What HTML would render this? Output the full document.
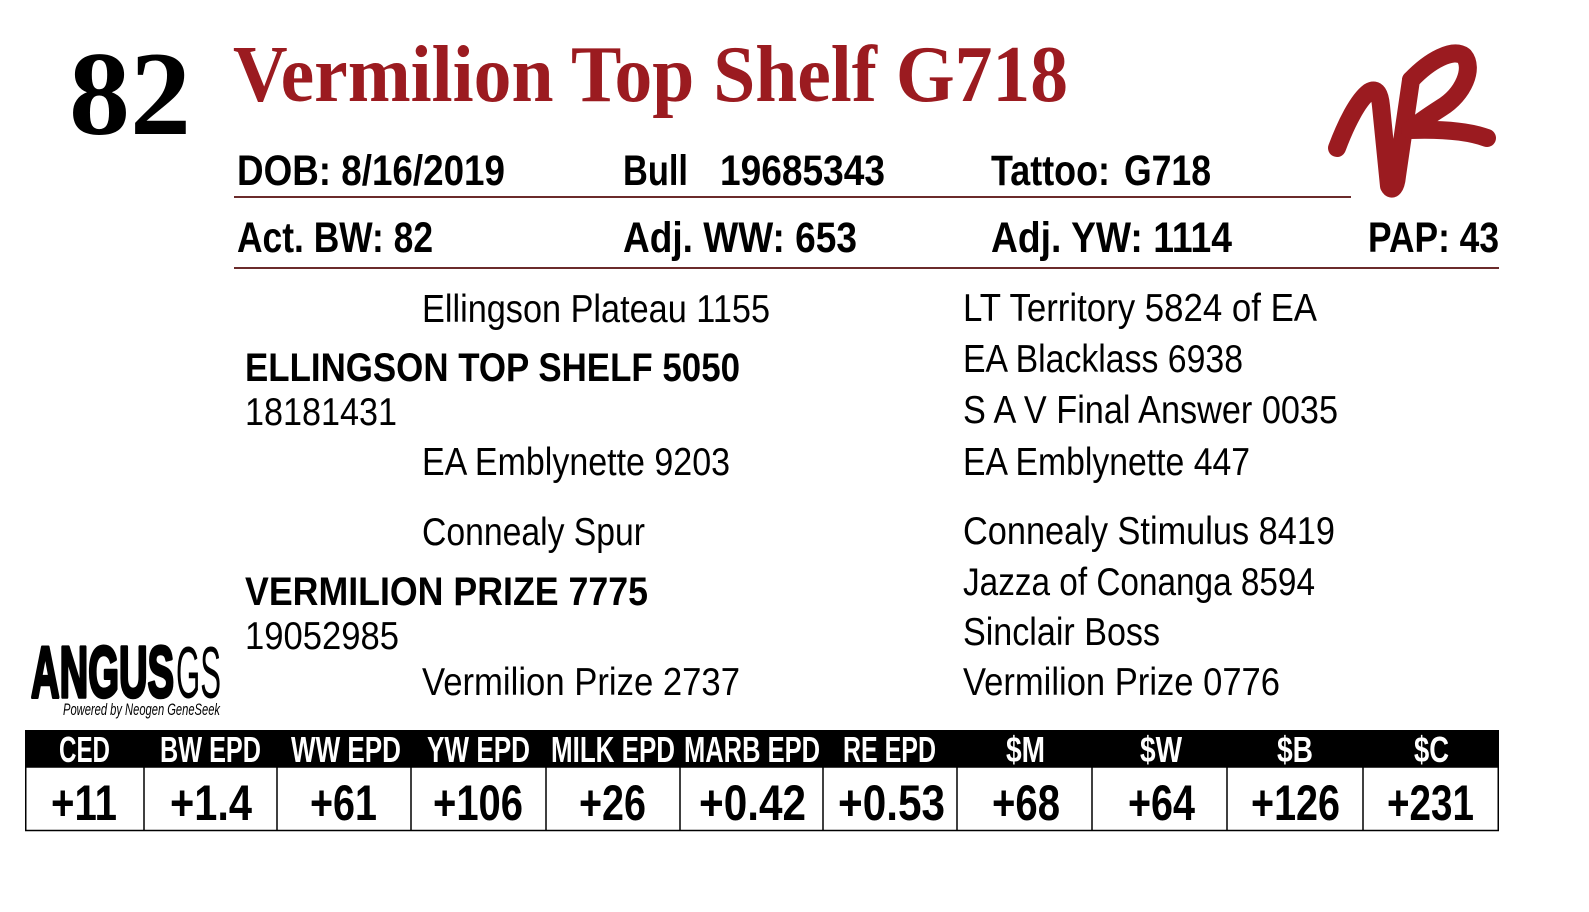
<!DOCTYPE html>
<html>
<head>
<meta charset="utf-8">
<style>
  html,body{margin:0;padding:0;background:#fff;}
  svg{display:block;}
  .sans{font-family:"Liberation Sans Narrow","Liberation Sans",sans-serif;}
  .serif{font-family:"Liberation Serif",serif;}
</style>
</head>
<body>
<svg width="1589" height="912" viewBox="0 0 1589 912" xmlns="http://www.w3.org/2000/svg">
  <rect x="0" y="0" width="1589" height="912" fill="#ffffff"/>

  <!-- Lot number & title -->
  <text class="serif" x="69" y="134" font-size="120" font-weight="bold" fill="#000" textLength="122" lengthAdjust="spacingAndGlyphs">82</text>
  <text class="serif" x="233" y="101" font-size="81" font-weight="bold" fill="#9b1b20" textLength="835" lengthAdjust="spacingAndGlyphs">Vermilion Top Shelf G718</text>

  <!-- VR brand logo -->
  <g fill="none" stroke="#9b1b20" stroke-width="18" stroke-linecap="round" stroke-linejoin="round">
    <path d="M1337,148 C1346,124 1358,100 1369,92 C1377,87 1380,95 1381,106 L1389,186 C1392,192 1396,187 1397,176 L1411,80"/>
    <path d="M1411,80 C1430,60 1453,48 1464,56 C1474,68 1464,94 1441,108 C1427,117 1417,124 1410,130 C1440,129 1468,131 1487,138"/>
  </g>

  <!-- Row 1 -->
  <g class="sans" font-weight="bold" font-size="43" fill="#000">
    <text x="237" y="185" textLength="268" lengthAdjust="spacingAndGlyphs">DOB: 8/16/2019</text>
    <text x="623" y="185" textLength="65" lengthAdjust="spacingAndGlyphs">Bull</text>
    <text x="720" y="185" textLength="165" lengthAdjust="spacingAndGlyphs">19685343</text>
    <text x="991" y="185" textLength="119" lengthAdjust="spacingAndGlyphs">Tattoo:</text>
    <text x="1124" y="185" textLength="87" lengthAdjust="spacingAndGlyphs">G718</text>

    <text x="237" y="252" textLength="196" lengthAdjust="spacingAndGlyphs">Act. BW: 82</text>
    <text x="623" y="252" textLength="234" lengthAdjust="spacingAndGlyphs">Adj. WW: 653</text>
    <text x="991" y="252" textLength="241" lengthAdjust="spacingAndGlyphs">Adj. YW: 1114</text>
    <text x="1368" y="252" textLength="131" lengthAdjust="spacingAndGlyphs">PAP: 43</text>
  </g>
  <line x1="234" y1="197" x2="1351" y2="197" stroke="#6b2b2b" stroke-width="2"/>
  <line x1="234" y1="268" x2="1499" y2="268" stroke="#6b2b2b" stroke-width="2"/>

  <!-- Pedigree -->
  <g class="sans" font-size="39" fill="#000">
    <text x="422" y="322" textLength="348" lengthAdjust="spacingAndGlyphs">Ellingson Plateau 1155</text>
    <text x="245" y="381" font-weight="bold" font-size="40" textLength="495" lengthAdjust="spacingAndGlyphs">ELLINGSON TOP SHELF 5050</text>
    <text x="245" y="425" textLength="152" lengthAdjust="spacingAndGlyphs">18181431</text>
    <text x="422" y="475" textLength="308" lengthAdjust="spacingAndGlyphs">EA Emblynette 9203</text>

    <text x="422" y="545" textLength="223" lengthAdjust="spacingAndGlyphs">Connealy Spur</text>
    <text x="245" y="605" font-weight="bold" font-size="40" textLength="403" lengthAdjust="spacingAndGlyphs">VERMILION PRIZE 7775</text>
    <text x="245" y="649" textLength="154" lengthAdjust="spacingAndGlyphs">19052985</text>
    <text x="422" y="695" textLength="318" lengthAdjust="spacingAndGlyphs">Vermilion Prize 2737</text>

    <text x="963" y="321" textLength="354" lengthAdjust="spacingAndGlyphs">LT Territory 5824 of EA</text>
    <text x="963" y="372" textLength="280" lengthAdjust="spacingAndGlyphs">EA Blacklass 6938</text>
    <text x="963" y="423" textLength="375" lengthAdjust="spacingAndGlyphs">S A V Final Answer 0035</text>
    <text x="963" y="475" textLength="287" lengthAdjust="spacingAndGlyphs">EA Emblynette 447</text>
    <text x="963" y="544" textLength="372" lengthAdjust="spacingAndGlyphs">Connealy Stimulus 8419</text>
    <text x="963" y="595" textLength="352" lengthAdjust="spacingAndGlyphs">Jazza of Conanga 8594</text>
    <text x="963" y="645" textLength="197" lengthAdjust="spacingAndGlyphs">Sinclair Boss</text>
    <text x="963" y="695" textLength="317" lengthAdjust="spacingAndGlyphs">Vermilion Prize 0776</text>
  </g>

  <!-- AngusGS logo -->
  <text class="sans" x="31" y="697" font-size="72" font-weight="bold" fill="#000" stroke="#000" stroke-width="3.5" stroke-linejoin="round" textLength="143" lengthAdjust="spacingAndGlyphs">ANGUS</text>
  <text class="sans" x="176" y="698" font-size="73" font-weight="normal" fill="#000" textLength="45" lengthAdjust="spacingAndGlyphs">GS</text>
  <text class="sans" x="63" y="715" font-size="17" font-style="italic" fill="#000" textLength="157" lengthAdjust="spacingAndGlyphs">Powered by Neogen GeneSeek</text>

  <!-- EPD table -->
  <rect x="25" y="730" width="1474" height="37" fill="#000"/>
  <rect x="25.75" y="767" width="1472.5" height="63.5" fill="none" stroke="#000" stroke-width="1.5"/>
  <g stroke="#000" stroke-width="1.5">
    <line x1="144" y1="767" x2="144" y2="831"/>
    <line x1="277" y1="767" x2="277" y2="831"/>
    <line x1="411" y1="767" x2="411" y2="831"/>
    <line x1="546" y1="767" x2="546" y2="831"/>
    <line x1="680" y1="767" x2="680" y2="831"/>
    <line x1="823" y1="767" x2="823" y2="831"/>
    <line x1="957" y1="767" x2="957" y2="831"/>
    <line x1="1092" y1="767" x2="1092" y2="831"/>
    <line x1="1227" y1="767" x2="1227" y2="831"/>
    <line x1="1363" y1="767" x2="1363" y2="831"/>
  </g>
  <g class="sans" font-weight="bold" font-size="36" fill="#fff">
    <text x="59" y="762" textLength="51" lengthAdjust="spacingAndGlyphs">CED</text>
    <text x="160" y="762" textLength="101" lengthAdjust="spacingAndGlyphs">BW EPD</text>
    <text x="291" y="762" textLength="110" lengthAdjust="spacingAndGlyphs">WW EPD</text>
    <text x="427" y="762" textLength="103" lengthAdjust="spacingAndGlyphs">YW EPD</text>
    <text x="551" y="762" textLength="124" lengthAdjust="spacingAndGlyphs">MILK EPD</text>
    <text x="684" y="762" textLength="136" lengthAdjust="spacingAndGlyphs">MARB EPD</text>
    <text x="843" y="762" textLength="93" lengthAdjust="spacingAndGlyphs">RE EPD</text>
    <text x="1006" y="762" textLength="39" lengthAdjust="spacingAndGlyphs">$M</text>
    <text x="1140" y="762" textLength="42" lengthAdjust="spacingAndGlyphs">$W</text>
    <text x="1277" y="762" textLength="36" lengthAdjust="spacingAndGlyphs">$B</text>
    <text x="1414" y="762" textLength="35" lengthAdjust="spacingAndGlyphs">$C</text>
  </g>
  <g class="sans" font-weight="bold" font-size="50" fill="#000">
    <text x="51" y="820" textLength="66" lengthAdjust="spacingAndGlyphs">+11</text>
    <text x="170" y="820" textLength="82" lengthAdjust="spacingAndGlyphs">+1.4</text>
    <text x="310" y="820" textLength="67" lengthAdjust="spacingAndGlyphs">+61</text>
    <text x="433" y="820" textLength="90" lengthAdjust="spacingAndGlyphs">+106</text>
    <text x="579" y="820" textLength="67" lengthAdjust="spacingAndGlyphs">+26</text>
    <text x="699" y="820" textLength="107" lengthAdjust="spacingAndGlyphs">+0.42</text>
    <text x="838" y="820" textLength="107" lengthAdjust="spacingAndGlyphs">+0.53</text>
    <text x="992" y="820" textLength="68" lengthAdjust="spacingAndGlyphs">+68</text>
    <text x="1128" y="820" textLength="67" lengthAdjust="spacingAndGlyphs">+64</text>
    <text x="1251" y="820" textLength="89" lengthAdjust="spacingAndGlyphs">+126</text>
    <text x="1387" y="820" textLength="87" lengthAdjust="spacingAndGlyphs">+231</text>
  </g>
</svg>
</body>
</html>
